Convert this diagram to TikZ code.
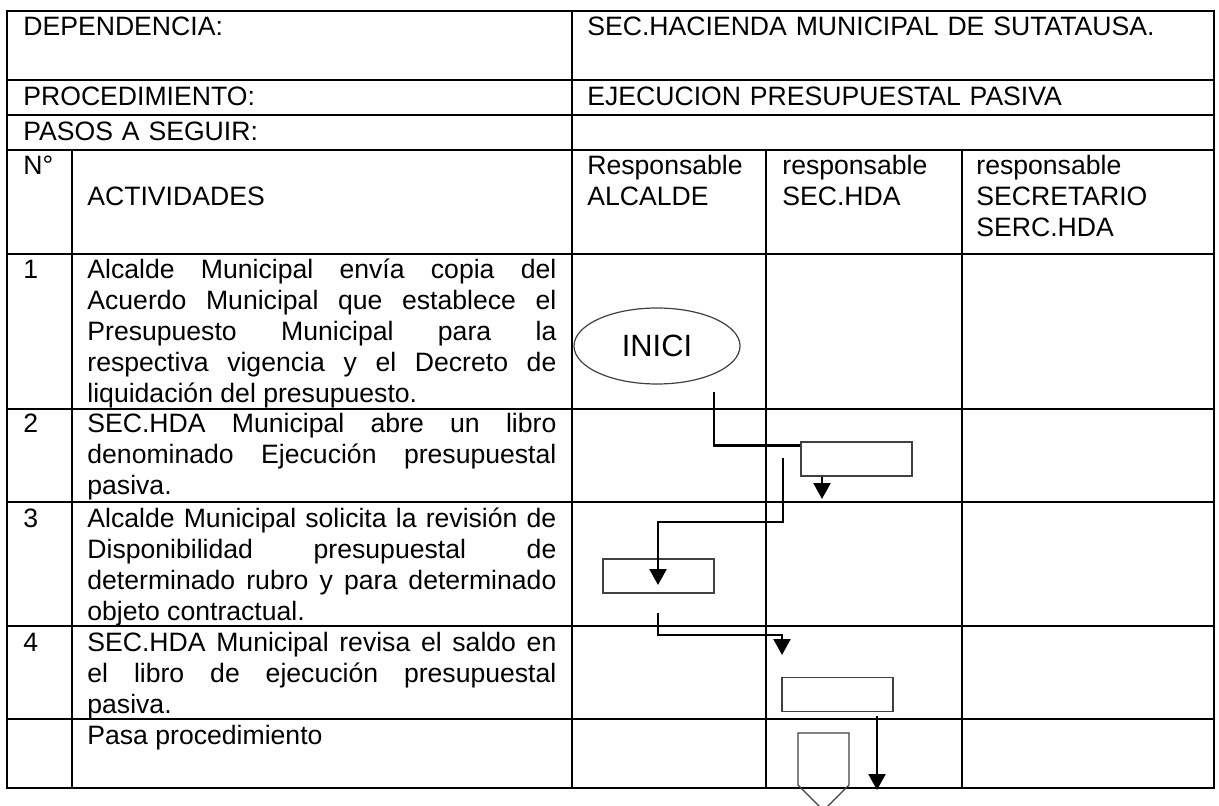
\documentclass[tikz,border=0pt]{standalone}
\usepackage{fontspec}
\setmainfont{Liberation Sans}
\usetikzlibrary{shapes.geometric, shapes.symbols, arrows.meta, positioning}

\newcommand{\cellfont}{\fontsize{13.3}{15.5}\selectfont}

\begin{document}
\begin{tikzpicture}[
    x=0.5pt, y=-0.5pt,
    grid/.style={line width=1.4pt, draw=black},
    cell/.style={anchor=base west, inner sep=0pt, font=\cellfont, text width=#1, align=left},
    cell/.default=150pt,
    activity/.style={anchor=base west, inner sep=0pt, font=\cellfont, text width=234.5pt, align=justify},
    shapebox/.style={rectangle, draw=black!75, line width=0.6pt, minimum width=55.5pt, minimum height=17pt, inner sep=0pt},
    conn/.style={line width=1.25pt, draw=black},
    arrow/.style={conn, -{Triangle[length=8pt, width=8.5pt]}}
]
    \useasboundingbox (0,0) rectangle (1219,806);

    % table frame
    \draw[grid] (7,11) rectangle (1214,788);
    \foreach \y in {80,115,150,254,409,502,626,719}
        \draw[grid] (7,\y) -- (1214,\y);
    \draw[grid] (572,11) -- (572,788);
    \foreach \x in {72,766,962}
        \draw[grid] (\x,150) -- (\x,788);

    % header
    \node[cell=270pt] (dep) at (23,36) {DEPENDENCIA:};
    \node[cell=310pt] (depval) at (587,36) {SEC.HACIENDA MUNICIPAL DE SUTATAUSA.};
    \node[cell=270pt] (proc) at (23,106) {PROCEDIMIENTO:};
    \node[cell=310pt] (procval) at (587,106) {EJECUCION PRESUPUESTAL PASIVA};
    \node[cell=270pt] (pasos) at (23,141) {PASOS A SEGUIR:};
    \node[cell=25pt] (num) at (23,175) {N°};
    \node[cell=234pt] (act) at (87,175) {\\ACTIVIDADES};
    \node[cell=88pt] (ralc) at (587,175) {Responsable\\ALCALDE};
    \node[cell=88pt] (rsec) at (782,175) {responsable\\SEC.HDA};
    \node[cell=110pt] (rserc) at (976,175) {responsable\\SECRETARIO\\SERC.HDA};

    % activities
    \node[cell=25pt] (n1) at (23,279) {1};
    \node[activity] (a1) at (87,279) {Alcalde Municipal envía copia del\linebreak
        Acuerdo Municipal que establece el\linebreak
        Presupuesto Municipal para la\linebreak
        respectiva vigencia y el Decreto de\linebreak
        liquidación del presupuesto.};
    \node[cell=25pt] (n2) at (23,433) {2};
    \node[activity] (a2) at (87,433) {SEC.HDA Municipal abre un libro\linebreak
        denominado Ejecución presupuestal\linebreak
        pasiva.};
    \node[cell=25pt] (n3) at (23,527) {3};
    \node[activity] (a3) at (87,527) {Alcalde Municipal solicita la revisión de\linebreak
        Disponibilidad presupuestal de\linebreak
        determinado rubro y para determinado\linebreak
        objeto contractual.};
    \node[cell=25pt] (n4) at (23,651) {4};
    \node[activity] (a4) at (87,651) {SEC.HDA Municipal revisa el saldo en\linebreak
        el libro de ejecución presupuestal\linebreak
        pasiva.};
    \node[activity] (a5) at (87,744) {Pasa procedimiento};

    % flow
    \node[ellipse, draw=black!75, line width=0.6pt, minimum width=83pt, minimum height=38pt, inner sep=0pt,
          font=\fontsize{15.4}{18}\selectfont] (inici) at (657,346) {INICI};
    \node[shapebox] (libro) at (856.5,459) {};
    \node[shapebox] (solicita) at (658.5,576) {};
    \node[shapebox] (revisa) at (837.5,694.5) {};
    \node[signal, signal to=south, signal pointer angle=90, draw=black!75, line width=0.6pt,
          minimum width=25.5pt, minimum height=26pt, inner sep=0pt] (pasa) at (823.5,759) {};

    \coordinate (s1) at (714,392);
    \coordinate (t1) at (822,499);
    \coordinate (s2) at (783,458);
    \coordinate (t2) at (658,585);
    \coordinate (s3) at (658,613);
    \coordinate (t3) at (782,655);
    \coordinate (s4) at (877,716);
    \coordinate (t4) at (877,790);

    \draw[conn] (s1) |- ([yshift=-2pt]libro.north west);
    \draw[arrow] (t1 |- libro.south) -- (t1);
    \draw[arrow] (s2) -- ++(0,64) -| (t2);
    \draw[arrow] (s3) -- ++(0,22) -| (t3);
    \draw[arrow] (s4) -- (t4);
\end{tikzpicture}
\end{document}
